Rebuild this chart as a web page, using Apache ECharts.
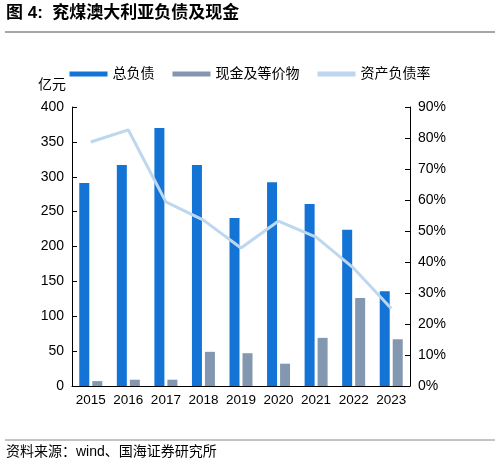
<!DOCTYPE html><html><head><meta charset="utf-8"><script src="https://cdn.jsdelivr.net/npm/echarts@6/dist/echarts.min.js"></script>
<style>body{margin:0}#c{width:500px;height:469px}</style></head><body><div id="c"></div><script>
const years=['2015','2016','2017','2018','2019','2020','2021','2022','2023'];
const totalDebt=[291,317,370,317,241,292,261,224,136];
const cash=[7,9,9,49,47,32,69,126,67];
const ratio=[78.7,82.6,59.4,53.5,44.5,53.2,48,38,25];
const f='"Liberation Sans","Noto Sans CJK SC",sans-serif';
const ch=echarts.init(document.getElementById('c'));
ch.setOption({
 animation:false,
 textStyle:{fontFamily:f},
 graphic:[
  {type:'text',left:6,top:5,style:{text:'图 4:  兖煤澳大利亚负债及现金',font:'bold 17px '+f,fill:'#000'}},
  {type:'line',shape:{x1:5,y1:32,x2:495,y2:32},style:{stroke:'#888',lineWidth:1.5}},
  {type:'line',shape:{x1:5,y1:440,x2:495,y2:440},style:{stroke:'#888',lineWidth:1}},
  {type:'text',left:6,top:445,style:{text:'资料来源：wind、国海证券研究所',font:'14px '+f,fill:'#000'}},
  {type:'text',left:38,top:78,style:{text:'亿元',font:'14px '+f,fill:'#000'}}
 ],
 legend:{top:62,left:'center',itemWidth:38,itemHeight:5,itemGap:18,textStyle:{fontSize:14,color:'#000'},
  data:[{name:'总负债',icon:'rect'},{name:'现金及等价物',icon:'rect'},{name:'资产负债率',icon:'rect'}]},
 grid:{left:72,right:90,top:107,bottom:83},
 xAxis:{type:'category',data:years,axisTick:{show:false},axisLine:{lineStyle:{color:'#000'}},axisLabel:{color:'#000',fontSize:13.5,margin:8,interval:0}},
 yAxis:[
  {type:'value',min:0,max:400,interval:50,axisLine:{show:true,lineStyle:{color:'#000'}},axisTick:{show:true,inside:true},splitLine:{show:false},axisLabel:{color:'#000',fontSize:14}},
  {type:'value',min:0,max:90,interval:10,axisLine:{show:true,lineStyle:{color:'#000'}},axisTick:{show:true,inside:true},splitLine:{show:false},axisLabel:{color:'#000',fontSize:14,formatter:'{value}%'}}
 ],
 series:[
  {name:'总负债',type:'bar',data:totalDebt,barWidth:10,barGap:'30%',itemStyle:{color:'#1374D6'}},
  {name:'现金及等价物',type:'bar',data:cash,barWidth:10,itemStyle:{color:'#8497B0'}},
  {name:'资产负债率',type:'line',yAxisIndex:1,data:ratio,symbol:'none',lineStyle:{color:'#BDD7EE',width:3},itemStyle:{color:'#BDD7EE'}}
 ]
});
</script></body></html>
